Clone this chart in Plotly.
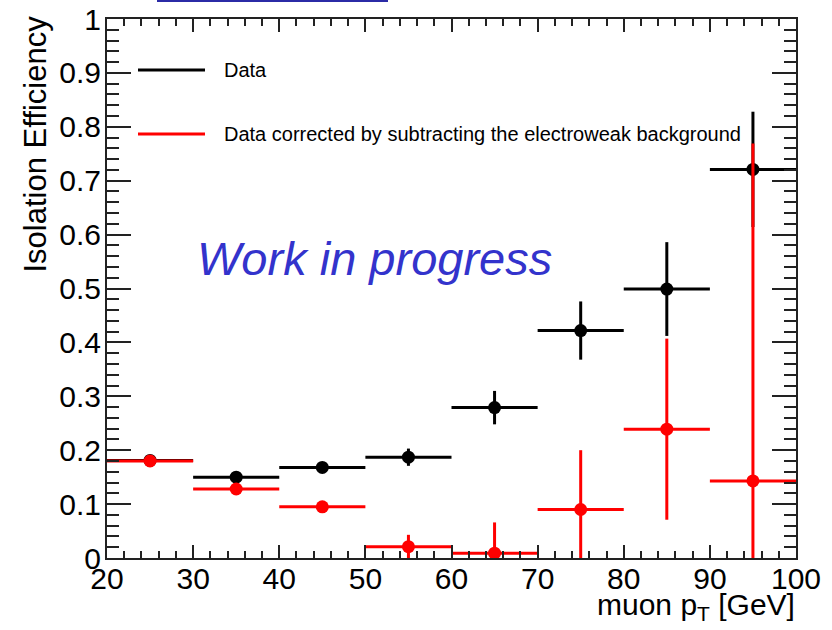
import plotly.graph_objects as go

# Muon pT bins (GeV) and half-width of each bin
pt_centers = [25, 35, 45, 55, 65, 75, 85, 95]
bin_half_width = [5, 5, 5, 5, 5, 5, 5, 5]

# Isolation efficiency measured in data
eff_data = [0.181, 0.150, 0.168, 0.187, 0.279, 0.422, 0.499, 0.721]
eff_data_err = [0.006, 0.008, 0.008, 0.016, 0.031, 0.054, 0.087, 0.107]

# Data corrected by subtracting the electroweak background
eff_corr = [0.180, 0.128, 0.095, 0.021, 0.009, 0.090, 0.239, 0.143]
eff_corr_err = [0.006, 0.007, 0.007, 0.022, 0.057, 0.110, 0.168, 0.626]

legend_labels = ["Data", "Data corrected by subtracting the electroweak background"]

W, H = 832, 630
L, R, T, B = 107, 36, 19, 72
PW, PH = W - L - R, H - T - B
FONT = "Liberation Sans, Arial, Helvetica, sans-serif"


def px(xp):
    return (xp - L) / PW


def py(yp):
    return (H - B - yp) / PH


def series(y, yerr, color):
    return go.Scatter(
        x=pt_centers, y=y, mode="markers",
        marker=dict(color=color, size=13, symbol="circle"),
        error_x=dict(type="data", array=bin_half_width, color=color, thickness=3, width=0),
        error_y=dict(type="data", array=yerr, color=color, thickness=3, width=0),
        showlegend=False, cliponaxis=True,
    )


fig = go.Figure()
fig.add_trace(series(eff_data, eff_data_err, "black"))
fig.add_trace(series(eff_corr, eff_corr_err, "#ff0000"))

axis_common = dict(
    showline=True, linecolor="#222222", linewidth=2, mirror="allticks",
    ticks="inside", tickcolor="#222222", tickwidth=2,
    showgrid=False, zeroline=False,
    tickfont=dict(family=FONT, size=30, color="black"),
)
fig.update_xaxes(range=[20, 100], dtick=10, tick0=20, ticklen=13, ticklabelstandoff=-7,
                 minor=dict(ticks="inside", dtick=2, ticklen=7, tickwidth=2, tickcolor="#222222"),
                 **axis_common)
fig.update_yaxes(range=[0, 1], dtick=0.1, tick0=0, ticklen=24, ticklabelstandoff=-2,
                 minor=dict(ticks="inside", dtick=0.02, ticklen=12, tickwidth=2, tickcolor="#222222"),
                 **axis_common)

shapes = [
    # blue banner edge at the very top
    dict(type="rect", xref="paper", yref="paper",
         x0=px(157), x1=px(388), y0=py(-6), y1=py(2),
         fillcolor="#2b2ba6", line=dict(width=0)),
    # legend line samples
    dict(type="line", xref="paper", yref="paper", x0=px(138), x1=px(205), y0=py(70), y1=py(70),
         line=dict(color="black", width=3)),
    dict(type="line", xref="paper", yref="paper", x0=px(138), x1=px(205), y0=py(134), y1=py(134),
         line=dict(color="#ff0000", width=3)),
]

annotations = [
    dict(text=legend_labels[0], xref="paper", yref="paper", x=px(222), y=py(70),
         xanchor="left", yanchor="middle", showarrow=False,
         font=dict(family=FONT, size=20, color="black")),
    dict(text=legend_labels[1], xref="paper", yref="paper", x=px(222), y=py(134),
         xanchor="left", yanchor="middle", showarrow=False,
         font=dict(family=FONT, size=20, color="black")),
    dict(text="<i>Work in progress</i>", xref="paper", yref="paper", x=px(374), y=py(258),
         xanchor="center", yanchor="middle", showarrow=False,
         font=dict(family=FONT, size=47, color="#3333cc")),
    dict(text="Isolation Efficiency", xref="paper", yref="paper", x=px(35), y=py(14),
         xanchor="center", yanchor="top", textangle=-90, showarrow=False,
         font=dict(family=FONT, size=31, color="black")),
    dict(text="muon p<sub>T</sub> [GeV]", xref="paper", yref="paper", x=px(797), y=py(606),
         xanchor="right", yanchor="middle", showarrow=False,
         font=dict(family=FONT, size=30, color="black")),
]

fig.update_layout(
    width=W, height=H,
    margin=dict(l=L, r=R, t=T, b=B, autoexpand=False),
    paper_bgcolor="white", plot_bgcolor="white",
    shapes=shapes, annotations=annotations,
    showlegend=False,
)

fig.write_html("out.html")
